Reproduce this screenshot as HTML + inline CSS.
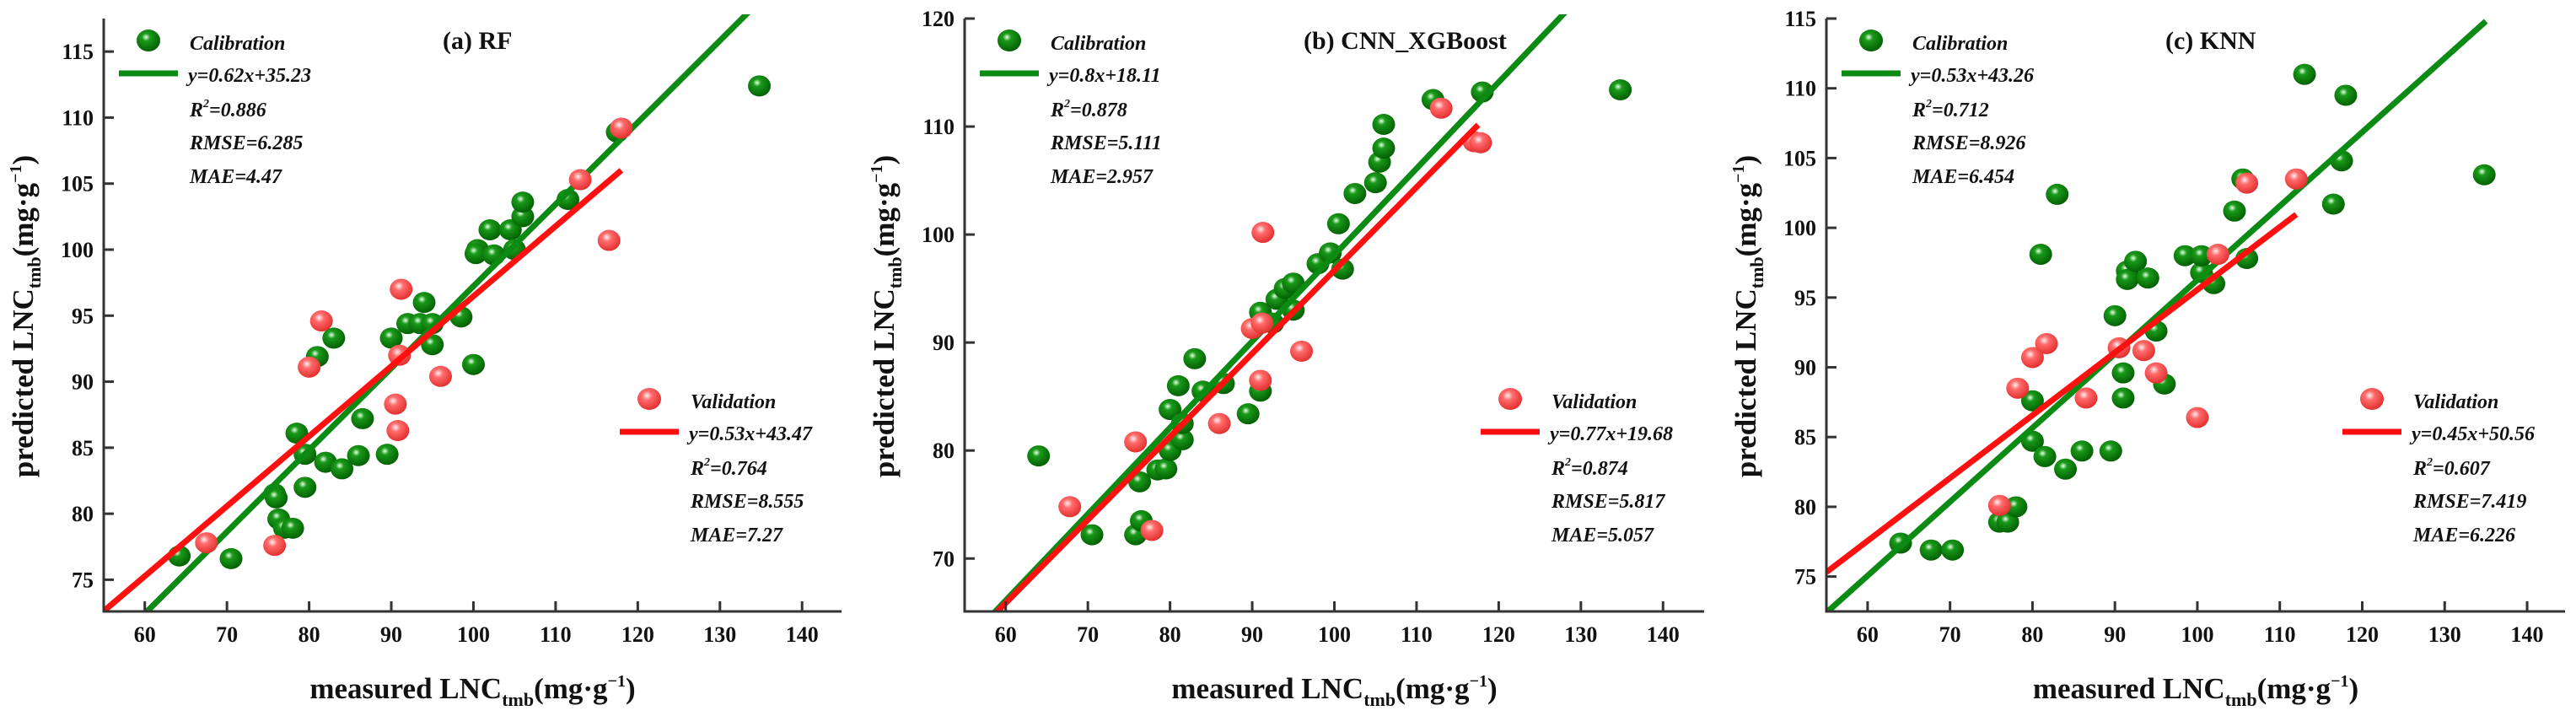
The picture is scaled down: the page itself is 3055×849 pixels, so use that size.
<!DOCTYPE html>
<html><head><meta charset="utf-8"><style>
html,body{margin:0;padding:0;background:#fff;}
svg{display:block;}
text{font-family:"Liberation Serif",serif;font-weight:bold;fill:#111;}
.st{font-style:italic;font-size:24px;}
.tk{font-size:26px;}
.ti{font-size:35px;}
.pt{font-size:30px;}
</style></head><body>
<svg id="chart" width="3055" height="849" viewBox="0 0 3055 849" xmlns="http://www.w3.org/2000/svg">
<defs>
<radialGradient id="gG" cx="0.4" cy="0.35" r="0.7"><stop offset="0" stop-color="#e8ffe8"/><stop offset="0.25" stop-color="#1a9a1a"/><stop offset="1" stop-color="#005a00"/></radialGradient>
<radialGradient id="gR" cx="0.4" cy="0.35" r="0.7"><stop offset="0" stop-color="#fff0f0"/><stop offset="0.3" stop-color="#ff6b6b"/><stop offset="1" stop-color="#e02a2a"/></radialGradient>
</defs>
</svg>
<script>
// ---- Panel (a) RF data ----
const rfCalX=[64.2,70.5,75.8,76,76.3,77,78,78.5,79.5,79.5,81,82,83,84,86,86.5,89.5,90,92,93.5,94,95,95,98.5,100,100.5,100.3,102,102.5,104.5,105,106,106,111.5,117.5,134.8];
const rfCalY=[76.8,76.6,81.5,81.2,79.6,78.9,78.9,86.1,84.5,82,91.9,83.9,93.3,83.4,84.4,87.2,84.5,93.3,94.4,94.4,96,94.4,92.8,94.9,91.3,100,99.7,101.5,99.6,101.5,100,102.5,103.6,103.8,108.9,112.4];
const rfValX=[67.5,75.8,80,81.5,90.5,90.8,91,91.2,96,113,116.5,118];
const rfValY=[77.8,77.6,91.1,94.6,88.3,86.3,92,97,90.4,105.3,100.7,109.2];
// ---- Panel (b) CNN_XGBoost data ----
const cxCalX=[64,70.5,75.8,76.5,76.3,78.5,79.5,80,80,81,81.5,81.5,83,84,86.5,89.5,91,91,92.5,93,94,95,95,98,99.5,100.5,101,102.5,105,105.5,106,106,112,118,134.8];
const cxCalY=[79.5,72.2,72.2,73.5,77.1,78.2,78.3,80,83.8,86,81,82.5,88.5,85.5,86.2,83.4,92.8,85.5,91.8,94,95,95.5,93,97.3,98.3,101,96.8,103.8,104.8,106.7,108,110.2,112.5,113.2,113.4];
const cxValX=[67.8,75.8,77.8,86,90,91.2,91.3,91,96,113,117,117.8];
const cxValY=[74.8,80.8,72.6,82.5,91.3,91.8,100.2,86.5,89.2,111.7,108.6,108.5];
// ---- Panel (c) KNN data ----
const knCalX=[64,67.7,70.3,76,77,78,80,80,81,81.5,83,84,86,89.5,90,91,91,91.5,91.5,92.5,94,95,96,98.5,100.5,100.5,102,104.5,105.5,106,113,116.5,117.5,118,134.8];
const knCalY=[77.4,76.9,76.9,78.9,78.9,80,87.6,84.7,98.1,83.6,102.4,82.7,84,84,93.7,89.6,87.8,96.9,96.3,97.6,96.4,92.6,88.8,98,96.8,98,96,101.2,103.5,97.8,111,101.7,104.8,109.5,103.8];
const knValX=[76,78.2,80,81.7,86.5,90.5,93.5,95,100,102.5,106,112];
const knValY=[80.1,88.5,90.7,91.7,87.8,91.4,91.2,89.6,86.4,98.1,103.2,103.5];
// fit lines: slope, intercept, x range
const rfCalFit=[0.62,35.23,55,145], rfValFit=[0.53,43.47,55,118];
const cxCalFit=[0.8,18.11,55,145], cxValFit=[0.77,19.68,58.3,117.5];
const knCalFit=[0.53,43.26,55,135], knValFit=[0.45,50.56,55,112];
const xTicks=[60,70,80,90,100,110,120,130,140];
const rfYTicks=[75,80,85,90,95,100,105,110,115];
const cxYTicks=[70,80,90,100,110,120];
const knYTicks=[75,80,85,90,95,100,105,110,115];
const rfStats=["y=0.62x+35.23","0.886","6.285","4.47","y=0.53x+43.47","0.764","8.555","7.27"];
const cxStats=["y=0.8x+18.11","0.878","5.111","2.957","y=0.77x+19.68","0.874","5.817","5.057"];
const knStats=["y=0.53x+43.26","0.712","8.926","6.454","y=0.45x+50.56","0.607","7.419","6.226"];

const NS="http://www.w3.org/2000/svg";
const svg=document.getElementById('chart');
function mk(tag,attrs,parent,txt){const e=document.createElementNS(NS,tag);for(const k in attrs)e.setAttribute(k,attrs[k]);if(txt!==undefined)e.textContent=txt;(parent||svg).appendChild(e);return e;}

const panels=[
 {id:'rf',title:'(a)  RF',ax:123,right:998,x0:55,x1:144.8,yTop:22,yBot:725,y0:72.6,y1:117.5,calX:rfCalX,calY:rfCalY,valX:rfValX,valY:rfValY,cf:rfCalFit,vf:rfValFit,yt:rfYTicks,st:rfStats},
 {id:'cnn-xgboost',title:'(b)  CNN_XGBoost',ax:1144,right:2021,x0:55,x1:145,yTop:22,yBot:725,y0:65.1,y1:120,calX:cxCalX,calY:cxCalY,valX:cxValX,valY:cxValY,cf:cxCalFit,vf:cxValFit,yt:cxYTicks,st:cxStats},
 {id:'knn',title:'(c)  KNN',ax:2166,right:3042,x0:55,x1:144.6,yTop:22,yBot:725,y0:72.5,y1:115,calX:knCalX,calY:knCalY,valX:knValX,valY:knValY,cf:knCalFit,vf:knValFit,yt:knYTicks,st:knStats}
];

panels.forEach(p=>{
 const g=mk('g',{});
 
 
 const sx=v=>p.ax+(v-p.x0)/(p.x1-p.x0)*(p.right-p.ax);
 const sy=v=>p.yBot-(v-p.y0)/(p.y1-p.y0)*(p.yBot-p.yTop);
 const cp=mk('clipPath',{id:'clip-'+p.id},g);
 mk('rect',{x:p.ax,y:p.yTop-5,width:p.right-p.ax,height:p.yBot-p.yTop+5},cp);
 const drawFit=(f,col,name)=>{
  let xa=f[2],xb=f[3];
  const l=mk('line',{x1:sx(xa),y1:sy(f[0]*xa+f[1]),x2:sx(xb),y2:sy(f[0]*xb+f[1]),stroke:col,'stroke-width':7,'clip-path':'url(#clip-'+p.id+')'},g);
  
  
 };
 const pts=(xs,ys,fill,name)=>{
  xs.forEach((x,i)=>{
   const c=mk('ellipse',{cx:sx(x),cy:sy(ys[i]),rx:13.5,ry:12.5,fill:fill},g);
   
   
  });
 };
 pts(p.calX,p.calY,'url(#gG)','calibration-point');
 drawFit(p.cf,'#0b8a14','calibration-fit-line');
 pts(p.valX,p.valY,'url(#gR)','validation-point');
 drawFit(p.vf,'#ff1010','validation-fit-line');
 const ya=mk('line',{x1:p.ax,y1:p.yTop,x2:p.ax,y2:p.yBot+1.5,stroke:'#333','stroke-width':3},g);
 
 
 const xa=mk('line',{x1:p.ax-1.5,y1:p.yBot,x2:p.right,y2:p.yBot,stroke:'#333','stroke-width':3},g);
 
 
 xTicks.forEach(t=>{
  mk('line',{x1:sx(t),y1:p.yBot,x2:sx(t),y2:p.yBot-12,stroke:'#333','stroke-width':3},g);
  const tl=mk('text',{x:sx(t),y:p.yBot+36,'text-anchor':'middle',class:'tk'},g,t);
  
  
 });
 p.yt.forEach(t=>{
  mk('line',{x1:p.ax,y1:sy(t),x2:p.ax+12,y2:sy(t),stroke:'#333','stroke-width':3},g);
  const tl=mk('text',{x:p.ax-12,y:sy(t)+9,'text-anchor':'end',class:'tk'},g,t);
  
  
 });
 const xt=mk('text',{x:(p.ax+p.right)/2,y:828,'text-anchor':'middle',class:'ti'},g);
 
 
 xt.innerHTML='measured LNC<tspan font-size="22" dy="9">tmb</tspan><tspan dy="-9">(mg·g</tspan><tspan font-size="20" dy="-14">−1</tspan><tspan dy="14">)</tspan>';
 const yt=mk('text',{x:0,y:0,'text-anchor':'middle',class:'ti',transform:'translate('+(p.ax-84)+',375) rotate(-90)'},g);
 
 
 yt.innerHTML='predicted LNC<tspan font-size="22" dy="9">tmb</tspan><tspan dy="-9">(mg·g</tspan><tspan font-size="20" dy="-14">−1</tspan><tspan dy="14">)</tspan>';
 const pt=mk('text',{x:p.ax+402,y:58,class:'pt'},g,p.title);
 
 
 const lg=(ox,oy,fill,col,label,st,name)=>{
  const lgG=mk('g',{},g);
  
  
  mk('ellipse',{cx:p.ax+ox+53,cy:oy,rx:14,ry:13,fill:fill},lgG);
  mk('line',{x1:p.ax+ox+18,y1:oy+39,x2:p.ax+ox+88,y2:oy+39,stroke:col,'stroke-width':7},lgG);
  mk('text',{x:p.ax+ox+102,y:oy+11,class:'st'},lgG,label);
  mk('text',{x:p.ax+ox+100,y:oy+49,class:'st'},lgG,st[0]);
  const r=mk('text',{x:p.ax+ox+102,y:oy+90,class:'st'},lgG);
  r.innerHTML='R<tspan font-size="14" dy="-11">2</tspan><tspan dy="11">='+st[1]+'</tspan>';
  mk('text',{x:p.ax+ox+102,y:oy+129,class:'st'},lgG,'RMSE='+st[2]);
  mk('text',{x:p.ax+ox+102,y:oy+169,class:'st'},lgG,'MAE='+st[3]);
 };
 lg(0,48,'url(#gG)','#0b8a14','Calibration',p.st.slice(0,4),'calibration-legend');
 lg(594,473,'url(#gR)','#ff1010','Validation',p.st.slice(4),'validation-legend');
});
</script>
</body></html>
